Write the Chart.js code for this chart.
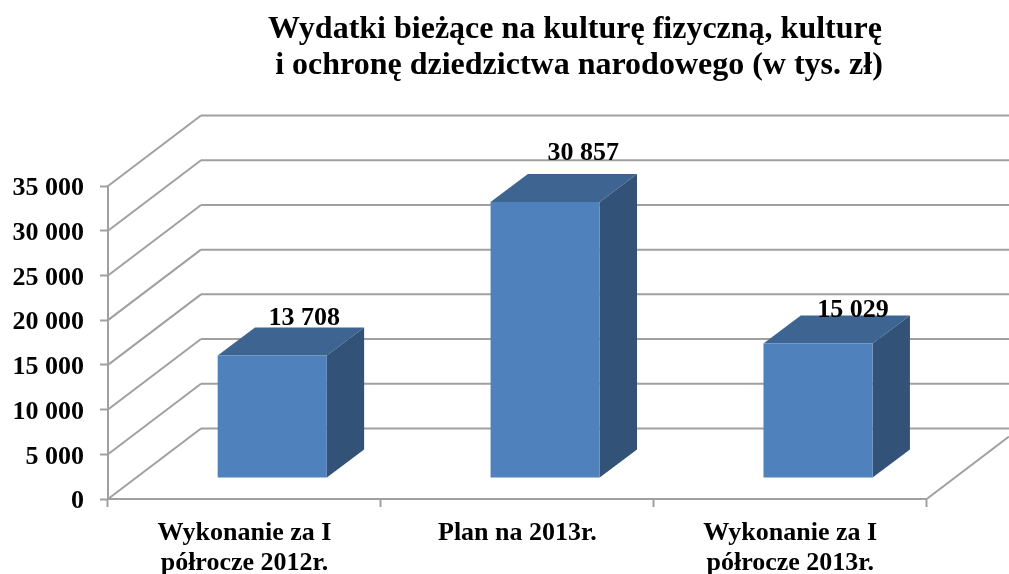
<!DOCTYPE html>
<html lang="pl">
<head>
<meta charset="utf-8">
<title>Wydatki bieżące</title>
<script src="https://cdn.jsdelivr.net/npm/chart.js@4"></script>
<style>
    html, body { margin: 0; padding: 0; background: #fff; }
    canvas { display: block; }
</style>
</head>
<body>
<canvas id="myChart" width="1009" height="574"></canvas>
<script>
const titleLines = ['Wydatki bieżące na kulturę fizyczną, kulturę', ' i ochronę dziedzictwa narodowego (w tys. zł)'];
const categories = [['Wykonanie za I', 'półrocze 2012r.'], 'Plan na 2013r.', ['Wykonanie za I', 'półrocze 2013r.']];
const values = [13708, 30857, 15029];
const axisMax = 35000;
const axisStep = 5000;

const FONT = '"Liberation Serif", "Times New Roman", serif';
const GRID = '#a0a0a0';

// depth of the walls and of the bars, in pixels
const wallDepth = { x: 93, y: -70.5 };
const barShift = { x: 27.8, y: -21 };
const barDepth = { x: 37.3, y: -28 };
// hand placed value labels, relative to the front top of the bar
const labelNudge = [[32, -30.5], [38, -42.5], [35, -26.5]];

const spaced = v => String(v).replace(/\B(?=(\d{3})+$)/g, ' ');

function line(ctx, x1, y1, x2, y2) {
    ctx.beginPath();
    ctx.moveTo(x1, y1);
    ctx.lineTo(x2, y2);
    ctx.stroke();
}

function face(ctx, color, points) {
    ctx.fillStyle = color;
    ctx.beginPath();
    points.forEach((p, i) => i ? ctx.lineTo(p[0], p[1]) : ctx.moveTo(p[0], p[1]));
    ctx.closePath();
    ctx.fill();
}

const box3d = {
    id: 'box3d',
    afterLayout(chart) {
        // the title sits right of the middle of the page
        chart.titleBlock.left = 141;
        chart.titleBlock.right = chart.width;
    },
    beforeDatasetsDraw(chart) {
        const { ctx, chartArea: area, scales: { y } } = chart;
        ctx.save();
        ctx.strokeStyle = GRID;
        for (let v = 0; v <= axisMax; v += axisStep) {
            const py = y.getPixelForValue(v);
            ctx.lineWidth = 2;
            line(ctx, area.left, py, area.left + wallDepth.x, py + wallDepth.y);
            line(ctx, area.left + wallDepth.x, py + wallDepth.y, chart.width, py + wallDepth.y);
        }
        // right edge of the floor
        const floorY = y.getPixelForValue(0);
        const k = (chart.width - area.right) / wallDepth.x;
        line(ctx, area.right, floorY, chart.width, floorY + wallDepth.y * k);
        ctx.restore();

        // the bars stand a little behind the axis
        ctx.save();
        ctx.translate(barShift.x, barShift.y);
        chart.getDatasetMeta(0).data.forEach(bar => {
            const l = bar.x - bar.width / 2;
            const r = bar.x + bar.width / 2;
            face(ctx, '#3e6491', [[l, bar.y], [r, bar.y], [r + barDepth.x, bar.y + barDepth.y], [l + barDepth.x, bar.y + barDepth.y]]);
            face(ctx, '#325278', [[r, bar.y], [r + barDepth.x, bar.y + barDepth.y], [r + barDepth.x, bar.base + barDepth.y], [r, bar.base]]);
        });
    },
    afterDatasetsDraw(chart) {
        const { ctx } = chart;
        ctx.restore();
        ctx.save();
        ctx.font = 'bold 26px ' + FONT;
        ctx.fillStyle = '#000';
        ctx.textAlign = 'center';
        ctx.textBaseline = 'alphabetic';
        chart.getDatasetMeta(0).data.forEach((bar, i) => {
            const px = bar.x + barShift.x + labelNudge[i][0];
            const py = bar.y + barShift.y + labelNudge[i][1];
            ctx.fillText(spaced(values[i]), px, py);
        });
        ctx.restore();
    }
};

new Chart(document.getElementById('myChart'), {
    type: 'bar',
    data: {
        labels: categories,
        datasets: [{
            data: values,
            backgroundColor: '#4f81bd',
            borderWidth: 0,
            barPercentage: 1,
            categoryPercentage: 0.4,
            clip: false
        }]
    },
    options: {
        responsive: false,
        animation: false,
        layout: { padding: { top: 0, right: 82.3, bottom: 0, left: 0 } },
        plugins: {
            legend: { display: false },
            tooltip: { enabled: false },
            title: {
                display: true,
                text: titleLines,
                color: '#000',
                font: { family: FONT, size: 32, weight: 'bold', lineHeight: 1.125 },
                padding: { top: 11.5, bottom: 102.5 }
            }
        },
        scales: {
            x: {
                afterFit(scale) { scale.height = 75; },
                grid: { drawOnChartArea: false, tickColor: GRID, tickWidth: 2, tickLength: 8 },
                border: { color: GRID, width: 2 },
                ticks: {
                    color: '#000',
                    font: { family: FONT, size: 26, weight: 'bold', lineHeight: 1.15 },
                    maxRotation: 0,
                    autoSkip: false,
                    padding: 11
                }
            },
            y: {
                min: 0,
                max: axisMax,
                afterFit(scale) { scale.width = 108; },
                grid: { drawOnChartArea: false, tickColor: GRID, tickWidth: 2, tickLength: 8 },
                border: { color: GRID, width: 2 },
                ticks: {
                    stepSize: axisStep,
                    color: '#000',
                    font: { family: FONT, size: 26, weight: 'bold' },
                    padding: 16,
                    labelOffset: 2.5,
                    callback: spaced
                }
            }
        }
    },
    plugins: [box3d]
});
</script>
</body>
</html>
